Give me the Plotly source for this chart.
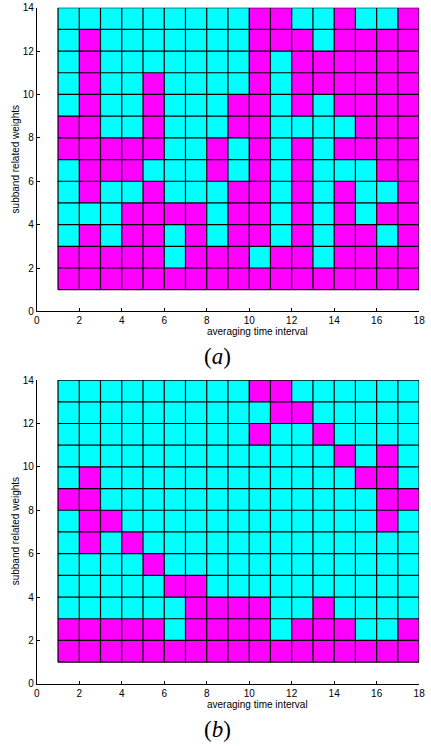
import plotly.graph_objects as go

# Cell colours, rows listed from top (y 13-14) to bottom (y 1-2); 0 = cyan, 1 = magenta
panel_a_rows = [
    [0,0,0,0,0,0,0,0,0,1,1,0,0,1,0,0,1],
    [0,1,0,0,0,0,0,0,0,1,1,1,0,1,1,1,1],
    [0,1,0,0,0,0,0,0,0,1,0,1,1,1,1,1,1],
    [0,1,0,0,1,0,0,0,0,1,0,1,1,1,1,1,1],
    [0,1,0,0,1,0,0,0,1,1,0,1,0,1,1,1,1],
    [1,1,0,0,1,0,0,0,1,1,0,0,0,0,1,1,1],
    [1,1,1,1,1,0,0,1,0,1,0,1,0,1,1,1,1],
    [0,1,1,1,0,0,0,1,0,1,0,1,0,0,0,1,1],
    [0,1,0,0,1,0,0,0,1,1,0,1,0,1,0,0,1],
    [0,0,0,1,1,1,1,0,1,1,0,1,0,1,0,1,1],
    [0,1,0,1,1,0,1,0,1,1,0,1,0,1,1,0,1],
    [1,1,1,1,1,0,1,1,1,0,1,1,0,1,1,1,1],
    [1,1,1,1,1,1,1,1,1,1,1,1,1,1,1,1,1],
]
panel_b_rows = [
    [0,0,0,0,0,0,0,0,0,1,1,0,0,0,0,0,0],
    [0,0,0,0,0,0,0,0,0,0,1,1,0,0,0,0,0],
    [0,0,0,0,0,0,0,0,0,1,0,0,1,0,0,0,0],
    [0,0,0,0,0,0,0,0,0,0,0,0,0,1,0,1,0],
    [0,1,0,0,0,0,0,0,0,0,0,0,0,0,1,1,0],
    [1,1,0,0,0,0,0,0,0,0,0,0,0,0,0,1,1],
    [0,1,1,0,0,0,0,0,0,0,0,0,0,0,0,1,0],
    [0,1,0,1,0,0,0,0,0,0,0,0,0,0,0,0,0],
    [0,0,0,0,1,0,0,0,0,0,0,0,0,0,0,0,0],
    [0,0,0,0,0,1,1,0,0,0,0,0,0,0,0,0,0],
    [0,0,0,0,0,0,1,1,1,1,0,0,1,0,0,0,0],
    [1,1,1,1,1,0,1,1,1,1,0,1,1,1,0,0,1],
    [1,1,1,1,1,1,1,1,1,1,1,1,1,1,1,1,1],
]
x_edges = list(range(1, 19))   # averaging time interval cell edges
y_edges = list(range(1, 15))   # subband related weights cell edges
x_ticks = list(range(0, 19, 2))
y_ticks = list(range(0, 15, 2))
x_title = "averaging time interval"
y_title = "subband related weights"
captions = ["(<i>a</i>)", "(<i>b</i>)"]

CYAN = "#00FFFF"
MAGENTA = "#FF00FF"
colorscale = [[0, CYAN], [0.5, CYAN], [0.5, MAGENTA], [1, MAGENTA]]

def grid_lines():
    xs, ys = [], []
    for xv in x_edges:
        xs += [xv, xv, None]
        ys += [y_edges[0], y_edges[-1], None]
    for yv in y_edges:
        xs += [x_edges[0], x_edges[-1], None]
        ys += [yv, yv, None]
    return xs, ys

fig = go.Figure()
gx, gy = grid_lines()
for i, rows in enumerate([panel_a_rows, panel_b_rows]):
    xa = "x" if i == 0 else "x2"
    ya = "y" if i == 0 else "y2"
    z = rows[::-1]
    fig.add_trace(go.Heatmap(z=z, x=x_edges, y=y_edges, colorscale=colorscale,
                             zmin=0, zmax=1, showscale=False, hoverinfo="skip",
                             xaxis=xa, yaxis=ya))
    fig.add_trace(go.Scatter(x=gx, y=gy, mode="lines",
                             line=dict(color="black", width=1.2),
                             hoverinfo="skip", showlegend=False,
                             xaxis=xa, yaxis=ya))

W, H = 431, 746
xdom = [34.5 / W, 425 / W]
ydom_a = [1 - 311 / H, 1 - 2.7 / H]
ydom_b = [1 - 689 / H, 1 - 380.7 / H]

tickfont = dict(family="Liberation Sans, Arial", size=10, color="black")
axis_common = dict(showgrid=False, zeroline=False, showline=True, linecolor="black",
                   linewidth=1, ticks="inside", ticklen=3, tickcolor="black",
                   tickfont=tickfont, mirror=False, ticklabeloverflow="allow")

fig.update_layout(
    width=W, height=H, margin=dict(l=0, r=0, t=0, b=0),
    paper_bgcolor="white", plot_bgcolor="white", showlegend=False,
    xaxis=dict(domain=xdom, range=[0, 18], tickvals=x_ticks, anchor="y", **axis_common),
    yaxis=dict(domain=ydom_a, range=[0, 14], tickvals=y_ticks, anchor="x", **axis_common),
    xaxis2=dict(domain=xdom, range=[0, 18], tickvals=x_ticks, anchor="y2", **axis_common),
    yaxis2=dict(domain=ydom_b, range=[0, 14], tickvals=y_ticks, anchor="x2", **axis_common),
)

font_lbl = dict(family="Liberation Sans, Arial", size=10, color="black")
font_cap = dict(family="Liberation Serif, DejaVu Serif", size=23, color="black")
annots = []
for xt_y, yt_y, cap_y, cap in [(331.7, 157, 357, captions[0]), (710, 534.5, 735, captions[1])]:
    annots.append(dict(text=x_title, x=260 / W, y=1 - xt_y / H, xref="paper", yref="paper",
                       showarrow=False, font=font_lbl, xanchor="center", yanchor="middle"))
    annots.append(dict(text=y_title, x=13 / W, y=1 - yt_y / H, xref="paper", yref="paper",
                       showarrow=False, font=font_lbl, textangle=-90,
                       xanchor="center", yanchor="middle"))
    annots.append(dict(text=cap, x=219 / W, y=1 - cap_y / H, xref="paper", yref="paper",
                       showarrow=False, font=font_cap, xanchor="center", yanchor="middle"))
fig.update_layout(annotations=annots)

fig.write_html("out.html",
               config={"displayModeBar": False, "staticPlot": True},
               post_script="document.body.style.margin='0';document.body.style.overflow='hidden';")
